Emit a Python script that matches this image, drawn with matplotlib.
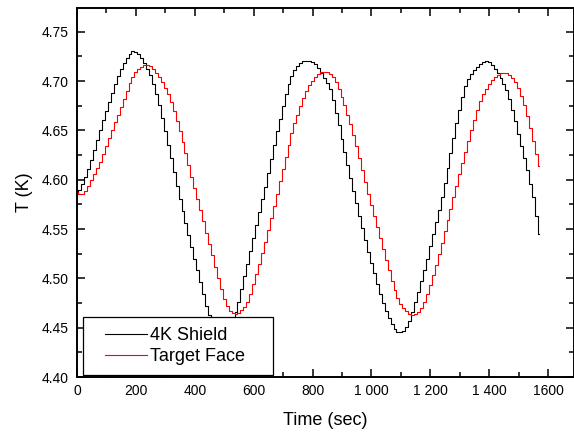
import numpy as np
from matplotlib import pyplot as plt
from matplotlib.legend_handler import HandlerLine2D

plt.rcParams['font.family'] = ['Liberation Sans', 'DejaVu Sans']

# time axis in seconds, one reading every 10 s
time = np.arange(0, 1571, 10)

# 4K shield temperature (K)
shieldTemp = [
    4.586, 4.590, 4.596, 4.603, 4.611, 4.620, 4.630, 4.640, 4.650, 4.661,
    4.670, 4.679, 4.688, 4.697, 4.705, 4.712, 4.718, 4.723, 4.727, 4.730,
    4.729, 4.727, 4.723, 4.718, 4.712, 4.706, 4.697, 4.687, 4.676, 4.663,
    4.649, 4.635, 4.622, 4.608, 4.594, 4.580, 4.568, 4.556, 4.544, 4.532,
    4.520, 4.508, 4.496, 4.484, 4.472, 4.463, 4.456, 4.451, 4.448, 4.447,
    4.447, 4.449, 4.453, 4.458, 4.466, 4.476, 4.489, 4.502, 4.515, 4.528,
    4.541, 4.554, 4.567, 4.580, 4.593, 4.607, 4.621, 4.635, 4.649, 4.662,
    4.675, 4.687, 4.697, 4.705, 4.711, 4.715, 4.718, 4.720, 4.720, 4.720,
    4.719, 4.717, 4.713, 4.708, 4.703, 4.698, 4.692, 4.681, 4.668, 4.655,
    4.641, 4.628, 4.615, 4.602, 4.589, 4.576, 4.563, 4.551, 4.539, 4.527,
    4.516, 4.505, 4.494, 4.484, 4.475, 4.467, 4.460, 4.454, 4.449, 4.446,
    4.446, 4.447, 4.451, 4.457, 4.466, 4.476, 4.486, 4.497, 4.508, 4.520,
    4.533, 4.545, 4.557, 4.569, 4.582, 4.597, 4.612, 4.627, 4.642, 4.657,
    4.671, 4.684, 4.695, 4.702, 4.707, 4.711, 4.714, 4.717, 4.719, 4.720,
    4.719, 4.716, 4.712, 4.708, 4.703, 4.697, 4.691, 4.682, 4.671, 4.659,
    4.646, 4.634, 4.622, 4.610, 4.596, 4.582, 4.563, 4.545,
]

# target face temperature (K)
targetTemp = [
    4.588, 4.586, 4.586, 4.589, 4.594, 4.600, 4.606, 4.612, 4.618, 4.626,
    4.634, 4.642, 4.650, 4.658, 4.666, 4.674, 4.682, 4.690, 4.698, 4.704,
    4.709, 4.712, 4.714, 4.716, 4.716, 4.715, 4.712, 4.708, 4.704, 4.699,
    4.693, 4.687, 4.679, 4.670, 4.660, 4.649, 4.638, 4.627, 4.615, 4.603,
    4.592, 4.580, 4.569, 4.558, 4.546, 4.535, 4.524, 4.512, 4.500, 4.489,
    4.479, 4.472, 4.467, 4.465, 4.464, 4.465, 4.468, 4.471, 4.476, 4.484,
    4.494, 4.504, 4.515, 4.526, 4.537, 4.549, 4.561, 4.573, 4.586, 4.599,
    4.611, 4.623, 4.635, 4.647, 4.657, 4.666, 4.675, 4.683, 4.690, 4.696,
    4.700, 4.704, 4.707, 4.709, 4.709, 4.709, 4.707, 4.704, 4.699, 4.692,
    4.684, 4.676, 4.666, 4.656, 4.645, 4.634, 4.622, 4.610, 4.598, 4.586,
    4.574, 4.563, 4.552, 4.541, 4.530, 4.519, 4.508, 4.497, 4.488, 4.480,
    4.474, 4.470, 4.467, 4.464, 4.463, 4.464, 4.466, 4.470, 4.476, 4.484,
    4.493, 4.503, 4.514, 4.525, 4.536, 4.548, 4.559, 4.570, 4.582, 4.594,
    4.606, 4.617, 4.628, 4.639, 4.650, 4.661, 4.671, 4.680, 4.687, 4.692,
    4.697, 4.701, 4.704, 4.706, 4.708, 4.708, 4.708, 4.706, 4.703, 4.699,
    4.693, 4.685, 4.676, 4.665, 4.652, 4.639, 4.626, 4.614,
]

seriesNames = ["4K Shield", "Target Face"]

xTicks = [0, 200, 400, 600, 800, 1000, 1200, 1400, 1600]
xTickLabels = ["0", "200", "400", "600", "800", "1 000", "1 200", "1 400", "1600"]
yTicks = [4.40, 4.45, 4.50, 4.55, 4.60, 4.65, 4.70, 4.75]


# legend line that leaves some blank space on its left, like Origin does
class ShortLine(HandlerLine2D):
    def create_artists(self, legend, orig_handle, xdescent, ydescent, width, height, fontsize, trans):
        shift = 9
        return super().create_artists(legend, orig_handle, xdescent - shift, ydescent,
                                      width - shift, height, fontsize, trans)


fig = plt.figure(figsize=(5.74, 4.34), dpi=100)
ax = fig.add_axes([0.1341, 0.1313, 0.8659, 0.8502])

l1, = ax.plot(time, shieldTemp, color="black", lw=0.8, drawstyle="steps-mid")
l2, = ax.plot(time, targetTemp, color="red", lw=0.8, drawstyle="steps-mid")

ax.set_xlim(0, 1688)
ax.set_ylim(4.40, 4.774)

ax.set_xticks(xTicks)
ax.set_xticklabels(xTickLabels)
ax.set_xticks(np.arange(100, 1700, 200), minor=True)
ax.set_yticks(yTicks)
ax.set_yticklabels(["%.2f" % v for v in yTicks])
ax.set_yticks(np.arange(4.425, 4.77, 0.05), minor=True)

ax.tick_params(which="both", direction="in", top=True, right=True, labelsize=10, width=1.1)
ax.tick_params(which="major", length=5.5)
ax.tick_params(which="minor", length=3.5)
ax.tick_params(axis="y", pad=6)
ax.tick_params(axis="x", pad=5)
for spine in ax.spines.values():
    spine.set_linewidth(1.4)

ax.set_xlabel("Time (sec)", fontsize=13, labelpad=10)
ax.set_ylabel("T (K)", fontsize=13, labelpad=6)

leg = ax.legend([l1, l2], seriesNames, loc="lower left", bbox_to_anchor=(0.012, 0.005, 0.382, 0.1),
                mode="expand", borderaxespad=0, fontsize=13, fancybox=False, framealpha=1,
                edgecolor="black", handlelength=3.0, handletextpad=0.15, labelspacing=0.22,
                borderpad=0.55, handler_map={l1: ShortLine(), l2: ShortLine()})
leg.get_frame().set_linewidth(0.9)

fig.savefig("out.png", dpi=100)
